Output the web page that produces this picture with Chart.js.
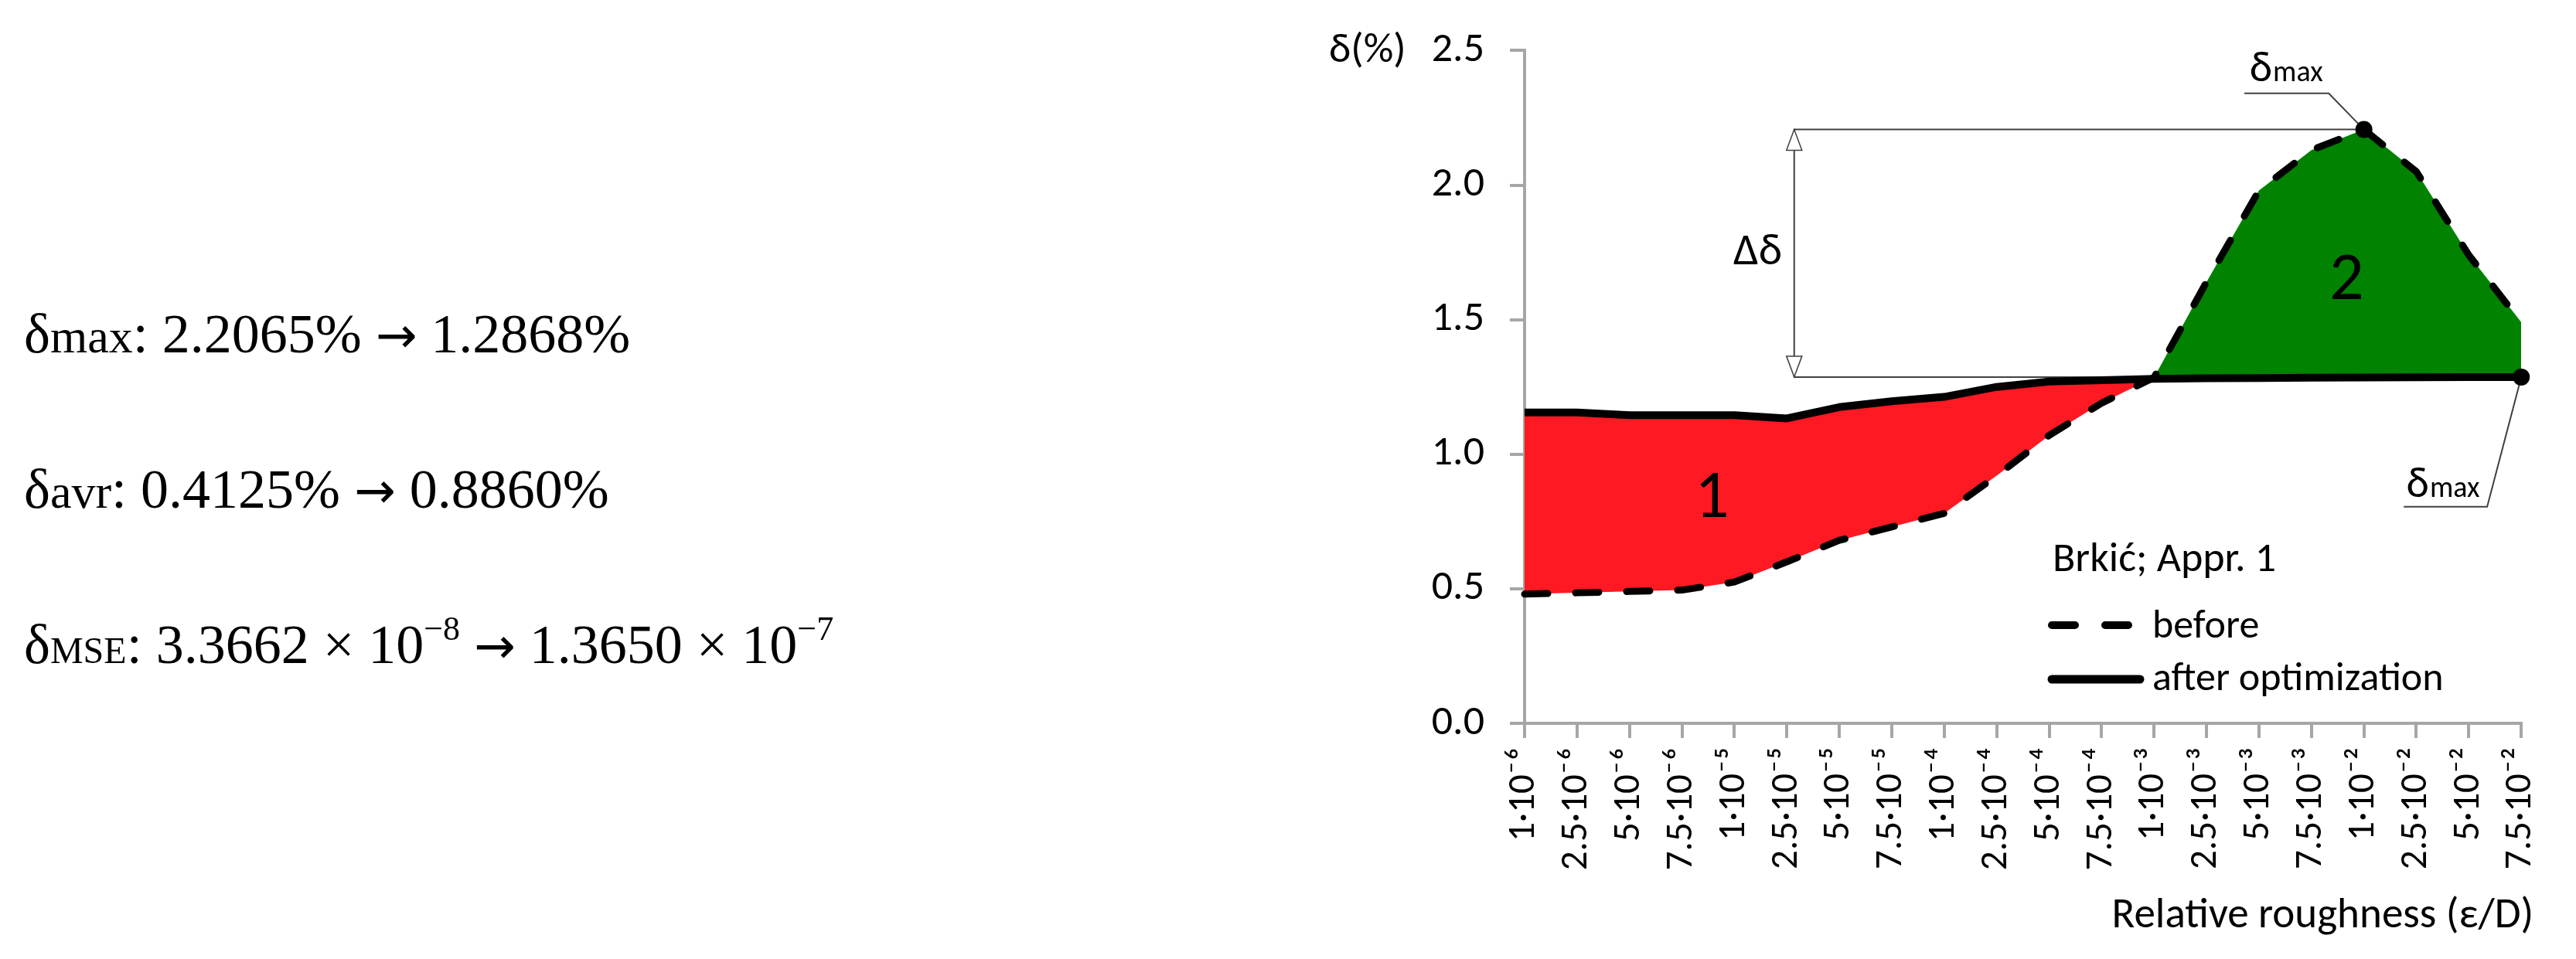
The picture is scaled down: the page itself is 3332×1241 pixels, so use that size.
<!DOCTYPE html>
<html>
<head>
<meta charset="utf-8">
<script src="https://cdn.jsdelivr.net/npm/chart.js@4.4.0/dist/chart.umd.min.js"></script>
<style>
    html, body { margin: 0; padding: 0; background: #fff; }
    body { width: 3332px; height: 1241px; position: relative; overflow: hidden; }
    #grafica { position: absolute; left: 0; top: 0; }
    .linea {
        position: absolute; left: 31px;
        font-family: 'Liberation Serif', 'Times New Roman', serif;
        font-size: 72px; line-height: 72px; color: #000; white-space: nowrap;
    }
    .sub { font-size: 62px; }
    .subc { font-size: 48px; }
    .sup { font-size: 44px; position: relative; top: -30px; }
    .flecha { font-family: 'DejaVu Sans', sans-serif; font-size: 64px; }
</style>
</head>
<body>
<canvas id="grafica" width="3332" height="1241"></canvas>

<!-- Resumen de errores a la izquierda -->
<div class="linea" style="top:396px">δ<span class="sub">max</span>: 2.2065% <span class="flecha">→</span> 1.2868%</div>
<div class="linea" style="top:597px">δ<span class="sub">avr</span>: 0.4125% <span class="flecha">→</span> 0.8860%</div>
<div class="linea" style="top:798px">δ<span class="subc">MSE</span>: 3.3662 × 10<span class="sup">−8</span> <span class="flecha">→</span> 1.3650 × 10<span class="sup">−7</span></div>

<script>
// Rugosidad relativa (eje X)
const etiquetas = [
    '1·10⁻⁶', '2.5·10⁻⁶', '5·10⁻⁶', '7.5·10⁻⁶',
    '1·10⁻⁵', '2.5·10⁻⁵', '5·10⁻⁵', '7.5·10⁻⁵',
    '1·10⁻⁴', '2.5·10⁻⁴', '5·10⁻⁴', '7.5·10⁻⁴',
    '1·10⁻³', '2.5·10⁻³', '5·10⁻³', '7.5·10⁻³',
    '1·10⁻²', '2.5·10⁻²', '5·10⁻²', '7.5·10⁻²'
];

// Error relativo δ (%) antes y después de la optimización
const antes = [0.48, 0.485, 0.49, 0.495, 0.525, 0.60, 0.68, 0.73, 0.78, 0.92,
               1.07, 1.19, 1.285, 1.64, 1.98, 2.13, 2.2065, 2.05, 1.74, 1.49];
const despues = [1.155, 1.155, 1.145, 1.145, 1.145, 1.133, 1.175, 1.197, 1.213, 1.25,
                 1.27, 1.275, 1.28, 1.282, 1.283, 1.284, 1.285, 1.286, 1.2868, 1.2868];

// Marcas del eje Y
const ticksY = [0, 0.5, 1.0, 1.5, 2.0, 2.5];

const fuente = "Carlito, 'Liberation Sans Narrow', 'DejaVu Sans Condensed', sans-serif";
const gris = '#a6a6a6';
const lineaAnot = '#404040';

const iPico = antes.indexOf(Math.max(...antes));
const iFin = despues.length - 1;

// Dibuja un texto tipo δ con subíndice
function textoDelta(ctx, sub, x, base, tam, tamSub) {
    ctx.font = `${tam}px ${fuente}`;
    ctx.fillText('δ', x, base);
    const w = ctx.measureText('δ').width;
    ctx.font = `${tamSub}px ${fuente}`;
    ctx.fillText(sub, x + w + 1, base);
}

function puntaFlecha(ctx, x, yPunta, dir) {
    ctx.beginPath();
    ctx.moveTo(x, yPunta);
    ctx.lineTo(x - 10, yPunta + dir * 27);
    ctx.lineTo(x + 10, yPunta + dir * 27);
    ctx.closePath();
    ctx.fillStyle = '#fff';
    ctx.fill();
    ctx.stroke();
}

const anotaciones = {
    id: 'anotaciones',
    beforeDatasetsDraw(chart) {
        const { ctx, scales: { x, y } } = chart;
        const xFlecha = x.getPixelForValue(5.14);
        const yMax = y.getPixelForValue(antes[iPico]);
        const yMin = y.getPixelForValue(despues[iFin]);

        ctx.save();
        ctx.strokeStyle = lineaAnot;
        ctx.lineWidth = 2;
        ctx.beginPath();
        // líneas de referencia de δmax
        ctx.moveTo(xFlecha, yMax);
        ctx.lineTo(x.getPixelForValue(iPico), yMax);
        ctx.moveTo(xFlecha, yMin);
        ctx.lineTo(x.getPixelForValue(iFin), yMin);
        // cota Δδ
        ctx.moveTo(xFlecha, yMax);
        ctx.lineTo(xFlecha, yMin);
        // llamada superior
        ctx.moveTo(x.getPixelForValue(13.72), y.getPixelForValue(2.341));
        ctx.lineTo(x.getPixelForValue(15.33), y.getPixelForValue(2.341));
        ctx.lineTo(x.getPixelForValue(iPico), yMax);
        // llamada inferior
        ctx.moveTo(x.getPixelForValue(16.76), y.getPixelForValue(0.805));
        ctx.lineTo(x.getPixelForValue(18.35), y.getPixelForValue(0.805));
        ctx.lineTo(x.getPixelForValue(iFin), yMin);
        ctx.stroke();

        ctx.lineWidth = 1.5;
        puntaFlecha(ctx, xFlecha, yMax, 1);
        puntaFlecha(ctx, xFlecha, yMin, -1);
        ctx.restore();
    },
    afterDraw(chart) {
        const { ctx, chartArea, scales: { x, y } } = chart;
        ctx.save();
        ctx.fillStyle = '#000';
        ctx.textBaseline = 'alphabetic';

        // títulos de los ejes
        ctx.font = `54px ${fuente}`;
        ctx.textAlign = 'left';
        ctx.fillText('δ(%)', 1719, 80);
        ctx.font = `55px ${fuente}`;
        ctx.textAlign = 'right';
        ctx.fillText('Relative roughness (ε/D)', chartArea.right + 16, 1200);

        // etiquetas de las zonas
        ctx.textAlign = 'center';
        ctx.textBaseline = 'middle';
        ctx.font = `88px ${fuente}`;
        ctx.fillText('1', x.getPixelForValue(3.57), y.getPixelForValue(0.83));
        ctx.fillText('2', x.getPixelForValue(15.67), y.getPixelForValue(1.64));

        ctx.textAlign = 'right';
        ctx.font = `58px ${fuente}`;
        ctx.fillText('Δδ', x.getPixelForValue(4.91), y.getPixelForValue(1.746));

        // δmax
        ctx.textAlign = 'left';
        ctx.textBaseline = 'alphabetic';
        textoDelta(ctx, 'max', x.getPixelForValue(13.82), y.getPixelForValue(2.386), 56, 38);
        textoDelta(ctx, 'max', x.getPixelForValue(16.81), y.getPixelForValue(0.842), 56, 38);

        // leyenda
        const lx = 2650;
        ctx.font = `54px ${fuente}`;
        ctx.fillText('Brkić; Appr. 1', lx + 5, 739);
        ctx.strokeStyle = '#000';
        ctx.lineCap = 'round';
        ctx.lineWidth = 10;
        ctx.setLineDash([30, 39]);
        ctx.beginPath();
        ctx.moveTo(lx + 4, 809);
        ctx.lineTo(lx + 108, 809);
        ctx.stroke();
        ctx.setLineDash([]);
        ctx.lineWidth = 11;
        ctx.beginPath();
        ctx.moveTo(lx + 4, 879);
        ctx.lineTo(lx + 118, 879);
        ctx.stroke();
        ctx.font = `52px ${fuente}`;
        ctx.fillText('before', lx + 134, 825);
        ctx.fillText('after optimization', lx + 134, 893);
        ctx.restore();
    }
};

const ctx = document.getElementById('grafica').getContext('2d');

window.grafica = new Chart(ctx, {
    type: 'line',
    data: {
        labels: etiquetas,
        datasets: [{
            label: 'before',
            data: antes,
            borderColor: '#000',
            borderWidth: 9,
            borderDash: [30, 36],
            borderCapStyle: 'round',
            borderJoinStyle: 'round',
            tension: 0,
            clip: false,
            fill: {
                target: 1,
                above: '#018201',   // zona 2: antes > después
                below: '#fe1923'    // zona 1: antes < después
            },
            pointRadius: (c) => c.dataIndex === iPico ? 11 : 0,
            pointBackgroundColor: '#000',
            pointBorderWidth: 0
        }, {
            label: 'after optimization',
            data: despues,
            borderColor: '#000',
            borderWidth: 10,
            borderJoinStyle: 'round',
            tension: 0,
            clip: false,
            fill: false,
            pointRadius: (c) => c.dataIndex === iFin ? 11 : 0,
            pointBackgroundColor: '#000',
            pointBorderWidth: 0
        }]
    },
    options: {
        responsive: false,
        animation: false,
        devicePixelRatio: 1,
        layout: {
            padding: { left: 0, right: 45, top: 55, bottom: 0 }
        },
        scales: {
            x: {
                type: 'category',
                offset: false,
                afterFit: (escala) => { escala.height = 305; },
                border: { display: true, color: gris, width: 4 },
                grid: { drawOnChartArea: false, drawTicks: true, tickLength: 19, color: gris, lineWidth: 4 },
                ticks: {
                    autoSkip: false,
                    minRotation: 90,
                    maxRotation: 90,
                    padding: 12,
                    color: '#000',
                    font: { family: fuente, size: 49 }
                }
            },
            y: {
                min: ticksY[0],
                max: ticksY[ticksY.length - 1],
                afterFit: (escala) => { escala.width = 1972; },
                afterBuildTicks: (escala) => { escala.ticks = ticksY.map(v => ({ value: v })); },
                border: { display: true, color: gris, width: 4 },
                grid: { drawOnChartArea: false, drawTicks: true, tickLength: 19, color: gris, lineWidth: 4 },
                ticks: {
                    padding: 33,
                    color: '#000',
                    font: { family: fuente, size: 54 },
                    callback: (v) => Number(v).toFixed(1)
                }
            }
        },
        plugins: {
            legend: { display: false },
            tooltip: { enabled: false },
            filler: { drawTime: 'beforeDatasetsDraw' }
        }
    },
    plugins: [anotaciones]
});
</script>
</body>
</html>
